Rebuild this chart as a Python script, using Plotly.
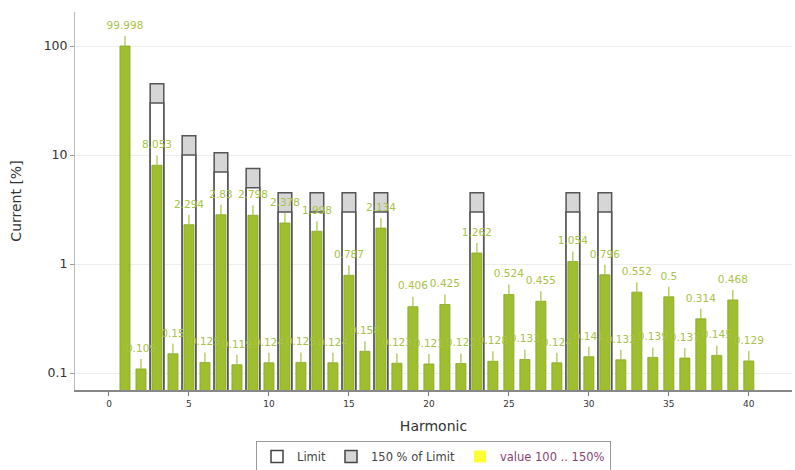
import plotly.graph_objects as go

harmonics = list(range(1, 41))
values = [99.998, 0.109, 8.053, 0.15, 2.294, 0.125, 2.83, 0.119, 2.798, 0.124,
          2.378, 0.125, 1.998, 0.124, 0.787, 0.158, 2.134, 0.123, 0.406, 0.121,
          0.425, 0.122, 1.262, 0.128, 0.524, 0.133, 0.455, 0.124, 1.054, 0.141,
          0.796, 0.132, 0.552, 0.139, 0.5, 0.137, 0.314, 0.145, 0.468, 0.129]
labels = [str(v) for v in values]

limit_harmonics = [3, 5, 7, 9, 11, 13, 15, 17, 23, 29, 31]
limit_values = [30, 10, 7, 5, 3, 3, 3, 3, 3, 3, 3]
limit_150 = [1.5 * v for v in limit_values]

GREEN = "#9fbf30"
LABEL = "#a9c248"

fig = go.Figure()

fig.add_trace(go.Bar(
    x=limit_harmonics, y=limit_150, width=0.85, name="150 % of Limit",
    marker=dict(color="#d6d6d6", line=dict(color="#555555", width=1.5)),
    showlegend=False, hoverinfo="skip"))
fig.add_trace(go.Bar(
    x=limit_harmonics, y=limit_values, width=0.85, name="Limit",
    marker=dict(color="white", line=dict(color="#555555", width=1.5)),
    showlegend=False, hoverinfo="skip"))

fig.add_trace(go.Bar(
    x=harmonics, y=values, width=0.63, name="value",
    marker=dict(color=GREEN, line=dict(color="#86a624", width=0.8)),
    error_y=dict(type="data", symmetric=False,
                 array=[v * 0.235 for v in values],
                 arrayminus=[0] * len(values),
                 color=LABEL, thickness=1.2, width=0),
    showlegend=False))

fig.add_trace(go.Scatter(
    x=harmonics, y=[v * 1.36 for v in values], mode="text", text=labels,
    textposition="top center", textfont=dict(color=LABEL, size=10.5, family="DejaVu Sans"),
    showlegend=False, hoverinfo="skip", cliponaxis=False))

# legend entries
fig.add_trace(go.Bar(x=[None], y=[None], name="Limit",
                     marker=dict(color="white", line=dict(color="#444444", width=1.5))))
fig.add_trace(go.Bar(x=[None], y=[None], name="150 % of Limit",
                     marker=dict(color="#d6d6d6", line=dict(color="#444444", width=1.5))))
fig.add_trace(go.Bar(x=[None], y=[None],
                     name="<span style='color:#8a3f72'>value 100 .. 150%</span>",
                     marker=dict(color="#ffff33", line=dict(color="#ffff33", width=0))))

fig.update_layout(
    width=795, height=470,
    margin=dict(l=75, r=3, t=12, b=80, autoexpand=False),
    barmode="overlay",
    plot_bgcolor="white", paper_bgcolor="white",
    font=dict(family="DejaVu Sans", color="#333333"),
    showlegend=True,
    legend=dict(orientation="h", x=0.5, xanchor="center", y=-0.135, yanchor="top",
                bordercolor="#999999", borderwidth=1, bgcolor="white",
                font=dict(size=11.5, color="#444444"), itemwidth=30,
                tracegroupgap=0, traceorder="normal"),
    xaxis=dict(range=[-2.125, 42.7], tickvals=list(range(0, 45, 5)),
               ticks="outside", ticklen=4, tickcolor="#777777",
               showline=True, linecolor="#888888", linewidth=1.5,
               showgrid=False, zeroline=False, automargin=False,
               tickfont=dict(size=9, color="#333333"),
               title=dict(text="Harmonic", font=dict(size=14, color="#333333"), standoff=14)),
    yaxis=dict(type="log", range=[-1.156, 2.312],
               tickvals=[0.1, 1, 10, 100], ticktext=["0.1", "1", "10", "100"],
               ticks="outside", ticklen=4, tickcolor="#999999",
               showline=True, linecolor="#bbbbbb", linewidth=1,
               showgrid=True, gridcolor="#eeeeee", zeroline=False, automargin=False,
               tickfont=dict(size=12.5, color="#333333"),
               title=dict(text="Current [%]", font=dict(size=14, color="#333333"), standoff=18)),
)

fig.write_html("out.html", config={"displayModeBar": False},
               post_script="document.body.style.margin='0px';")
